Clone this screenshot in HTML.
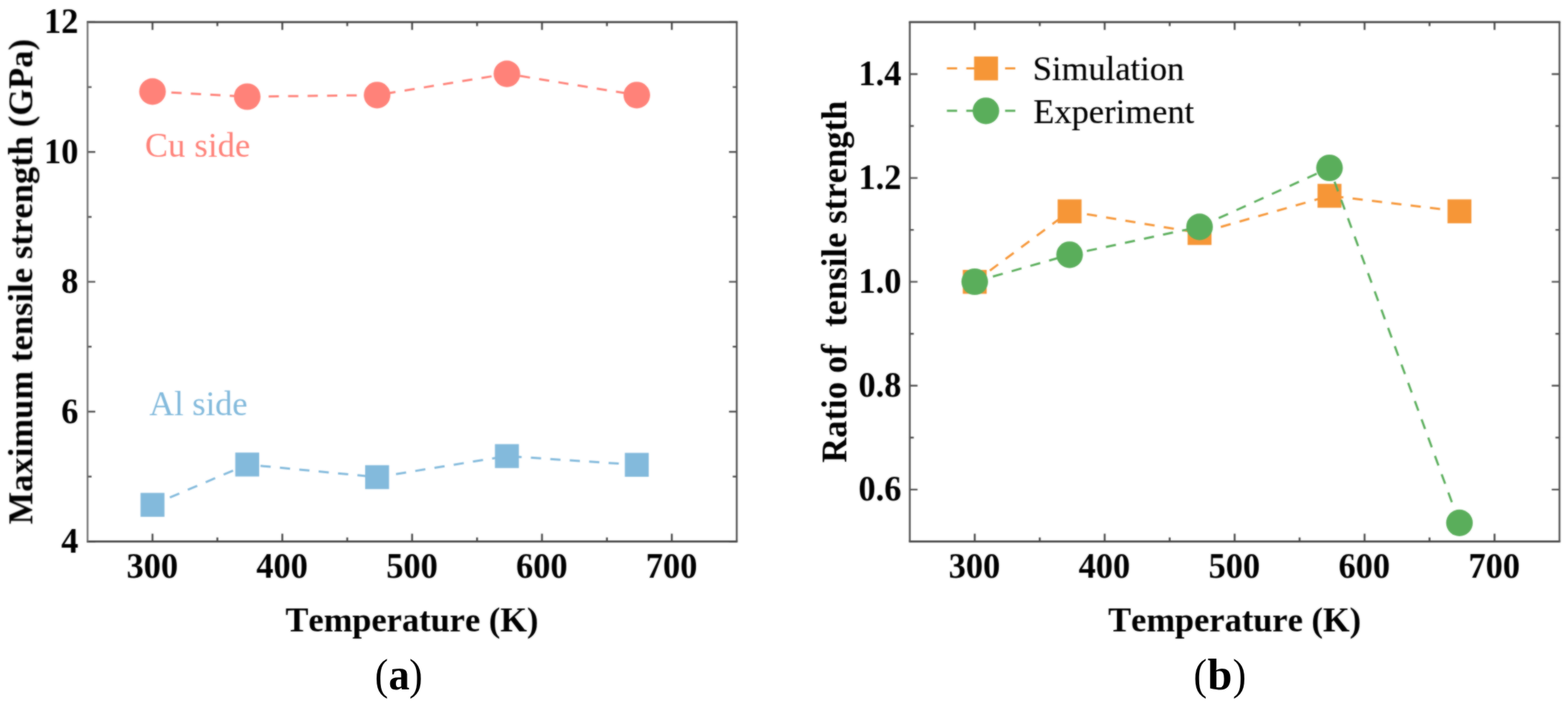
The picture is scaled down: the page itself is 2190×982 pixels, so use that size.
<!DOCTYPE html>
<html lang="en"><head><meta charset="utf-8"><title>Tensile strength versus temperature</title>
<style>
html,body{margin:0;padding:0;background:#fff}
body{width:2190px;height:982px;overflow:hidden}
svg{display:block}
text{font-family:"Liberation Serif","Times New Roman",Times,serif;font-size:48px;fill:#000;font-kerning:none}
.b{font-weight:bold}
#chart text{stroke:#000;stroke-width:0.2px;stroke-linejoin:round}
#chart text.b{stroke:none}
.fh{fill:none;stroke:#444444;stroke-width:2.7}
.fv{fill:none;stroke:#525252;stroke-width:2.5}
.tv{fill:none;stroke:#4c4c4c;stroke-width:2.6}
.th{fill:none;stroke:#505050;stroke-width:2.4}
.ln{fill:none;stroke-width:3.0;stroke-dasharray:14.3 12.9;stroke-dashoffset:0.8}
.cap{font-size:61px}
</style></head><body>
<svg width="2190" height="982" viewBox="0 0 2190 982">
<rect width="2190" height="982" fill="#fff"/>
<defs><filter id="soft" x="0" y="0" width="2190" height="982" filterUnits="userSpaceOnUse" color-interpolation-filters="sRGB"><feGaussianBlur in="SourceGraphic" stdDeviation="1" result="b"/><feComposite in="SourceGraphic" in2="b" operator="arithmetic" k1="0" k2="0.35" k3="0.65" k4="0"/></filter><filter id="soft2" x="0" y="0" width="2190" height="982" filterUnits="userSpaceOnUse" color-interpolation-filters="sRGB"><feGaussianBlur in="SourceGraphic" stdDeviation="1" result="b"/><feComposite in="SourceGraphic" in2="b" operator="arithmetic" k1="0" k2="0.75" k3="0.25" k4="0"/></filter></defs>
<g id="chart" filter="url(#soft)">
<g id="panel-a">
<path class="tv" d="M213.0 756.4v-10.8M213.0 30.9v10.8M394.3 756.4v-10.8M394.3 30.9v10.8M575.6 756.4v-10.8M575.6 30.9v10.8M757.0 756.4v-10.8M757.0 30.9v10.8M938.3 756.4v-10.8M938.3 30.9v10.8M303.6 756.4v-5.6M303.6 30.9v5.6M485.0 756.4v-5.6M485.0 30.9v5.6M666.3 756.4v-5.6M666.3 30.9v5.6M847.7 756.4v-5.6M847.7 30.9v5.6"/>
<path class="th" d="M122.3 756.4h10.8M1029.0 756.4h-10.8M122.3 575.0h10.8M1029.0 575.0h-10.8M122.3 393.6h10.8M1029.0 393.6h-10.8M122.3 212.3h10.8M1029.0 212.3h-10.8M122.3 30.9h10.8M1029.0 30.9h-10.8M122.3 665.7h5.6M1029.0 665.7h-5.6M122.3 484.3h5.6M1029.0 484.3h-5.6M122.3 303.0h5.6M1029.0 303.0h-5.6M122.3 121.6h5.6M1029.0 121.6h-5.6"/>
<path class="fh" d="M121.05 30.9H1030.25M121.05 756.4H1030.25"/>
<path class="fv" style="stroke:#707070;stroke-width:2.4" d="M122.3 30.9V756.4"/>
<path class="fv" d="M1029.0 30.9V756.4"/>
<text class="b" text-anchor="middle" transform="translate(212.7 807.4) scale(1 1.065)">300</text>
<text class="b" text-anchor="middle" transform="translate(394.0 807.4) scale(1 1.065)">400</text>
<text class="b" text-anchor="middle" transform="translate(575.4 807.4) scale(1 1.065)">500</text>
<text class="b" text-anchor="middle" transform="translate(756.7 807.4) scale(1 1.065)">600</text>
<text class="b" text-anchor="middle" transform="translate(938.0 807.4) scale(1 1.065)">700</text>
<text class="b" text-anchor="end" transform="translate(109.6 771.9) scale(1 1.065)">4</text>
<text class="b" text-anchor="end" transform="translate(109.6 590.5) scale(1 1.065)">6</text>
<text class="b" text-anchor="end" transform="translate(109.6 409.1) scale(1 1.065)">8</text>
<text class="b" text-anchor="end" transform="translate(109.6 227.8) scale(1 1.065)">10</text>
<text class="b" text-anchor="end" transform="translate(109.6 46.4) scale(1 1.065)">12</text>
<path class="ln" stroke="#83badc" d="M213.0 705.2L345.3 648.9L526.7 666.5L708.0 637.1L889.4 649.3"/>
<rect x="196.3" y="688.5" width="33.4" height="33.4" fill="#83badc"/>
<rect x="328.6" y="632.2" width="33.4" height="33.4" fill="#83badc"/>
<rect x="510.0" y="649.8" width="33.4" height="33.4" fill="#83badc"/>
<rect x="691.3" y="620.4" width="33.4" height="33.4" fill="#83badc"/>
<rect x="872.7" y="632.6" width="33.4" height="33.4" fill="#83badc"/>
<path class="ln" stroke="#ff8279" d="M213.0 127.9L345.3 135.0L526.7 132.8L708.0 103.1L889.4 132.8"/>
<circle cx="213.0" cy="127.9" r="18.6" fill="#ff8279"/>
<circle cx="345.3" cy="135.0" r="18.6" fill="#ff8279"/>
<circle cx="526.7" cy="132.8" r="18.6" fill="#ff8279"/>
<circle cx="708.0" cy="103.1" r="18.6" fill="#ff8279"/>
<circle cx="889.4" cy="132.8" r="18.6" fill="#ff8279"/>
<text x="202.5" y="218.8" style="fill:#ff8279;stroke:none;letter-spacing:0.3px">Cu side</text>
<text x="208.5" y="579.6" style="fill:#83badc;stroke:none">Al side</text>
<text class="b" text-anchor="middle" transform="translate(575.4 881.9) scale(1 1.025)">Temperature (K)</text>
<text class="b" text-anchor="middle" style="letter-spacing:0.17px" transform="translate(45.0 393.4) rotate(-90) scale(1 1.02)">Maximum tensile strength (GPa)</text>
</g>
<g id="panel-b">
<path class="tv" d="M1361.4 756.4v-10.8M1361.4 30.9v10.8M1542.9 756.4v-10.8M1542.9 30.9v10.8M1724.4 756.4v-10.8M1724.4 30.9v10.8M1905.9 756.4v-10.8M1905.9 30.9v10.8M2087.4 756.4v-10.8M2087.4 30.9v10.8M1452.2 756.4v-5.6M1452.2 30.9v5.6M1633.7 756.4v-5.6M1633.7 30.9v5.6M1815.1 756.4v-5.6M1815.1 30.9v5.6M1996.6 756.4v-5.6M1996.6 30.9v5.6"/>
<path class="th" d="M1270.7 683.9h10.8M2178.1 683.9h-10.8M1270.7 538.8h10.8M2178.1 538.8h-10.8M1270.7 393.6h10.8M2178.1 393.6h-10.8M1270.7 248.6h10.8M2178.1 248.6h-10.8M1270.7 103.5h10.8M2178.1 103.5h-10.8M1270.7 611.3h5.6M2178.1 611.3h-5.6M1270.7 466.2h5.6M2178.1 466.2h-5.6M1270.7 321.1h5.6M2178.1 321.1h-5.6M1270.7 176.0h5.6M2178.1 176.0h-5.6"/>
<path class="fh" d="M1269.45 30.9H2179.35M1269.45 756.4H2179.35"/>
<path class="fv" d="M1270.7 30.9V756.4"/>
<path class="fv" d="M2178.1 30.9V756.4"/>
<text class="b" text-anchor="middle" transform="translate(1361.1 807.4) scale(1 1.065)">300</text>
<text class="b" text-anchor="middle" transform="translate(1542.6 807.4) scale(1 1.065)">400</text>
<text class="b" text-anchor="middle" transform="translate(1724.1 807.4) scale(1 1.065)">500</text>
<text class="b" text-anchor="middle" transform="translate(1905.6 807.4) scale(1 1.065)">600</text>
<text class="b" text-anchor="middle" transform="translate(2087.1 807.4) scale(1 1.065)">700</text>
<text class="b" text-anchor="end" transform="translate(1258.9 699.4) scale(1 1.065)">0.6</text>
<text class="b" text-anchor="end" transform="translate(1258.9 554.2) scale(1 1.065)">0.8</text>
<text class="b" text-anchor="end" transform="translate(1258.9 409.1) scale(1 1.065)">1.0</text>
<text class="b" text-anchor="end" transform="translate(1258.9 264.1) scale(1 1.065)">1.2</text>
<text class="b" text-anchor="end" transform="translate(1258.9 119.0) scale(1 1.065)">1.4</text>
<path class="ln" stroke="#f69637" d="M1361.4 393.7L1493.9 295.2L1675.4 325.5L1856.9 273.5L2038.4 295.2"/>
<rect x="1344.7" y="377.0" width="33.4" height="33.4" fill="#f69637"/>
<rect x="1477.2" y="278.5" width="33.4" height="33.4" fill="#f69637"/>
<rect x="1658.7" y="308.8" width="33.4" height="33.4" fill="#f69637"/>
<rect x="1840.2" y="256.8" width="33.4" height="33.4" fill="#f69637"/>
<rect x="2021.7" y="278.5" width="33.4" height="33.4" fill="#f69637"/>
<path class="ln" stroke="#5aae5b" d="M1361.4 393.5L1493.9 355.8L1675.4 316.9L1856.9 234.5L2038.4 730.4"/>
<circle cx="1361.4" cy="393.5" r="18.6" fill="#5aae5b"/>
<circle cx="1493.9" cy="355.8" r="18.6" fill="#5aae5b"/>
<circle cx="1675.4" cy="316.9" r="18.6" fill="#5aae5b"/>
<circle cx="1856.9" cy="234.5" r="18.6" fill="#5aae5b"/>
<circle cx="2038.4" cy="730.4" r="18.6" fill="#5aae5b"/>
<path class="ln" style="stroke-dashoffset:0;stroke-dasharray:14.3 12.8" stroke="#f69637" d="M1322.5 95.6H1418.3"/>
<rect x="1360.5" y="78.9" width="33.4" height="33.4" fill="#f69637"/>
<path class="ln" style="stroke-dashoffset:0;stroke-dasharray:14.3 12.8" stroke="#5aae5b" d="M1322.5 154.8H1418.3"/>
<circle cx="1377.0" cy="154.8" r="18.6" fill="#5aae5b"/>
<text x="1442.6" y="112.4" style="letter-spacing:0.08px">Simulation</text>
<text x="1443.3" y="171.6" style="letter-spacing:0.08px">Experiment</text>
<text class="b" text-anchor="middle" transform="translate(1724.4 881.9) scale(1 1.025)">Temperature (K)</text>
<text class="b" text-anchor="middle" xml:space="preserve" style="letter-spacing:0.18px;white-space:pre" transform="translate(1182.3 393.4) rotate(-90) scale(1 1.04)">Ratio of  tensile strength</text>
</g>
</g>
<g id="captions" filter="url(#soft2)">
<text class="cap" y="963.2"><tspan x="523.4" font-size="60.5" style="font-size:60.5px" textLength="18.74" lengthAdjust="spacingAndGlyphs">(</tspan><tspan class="b" x="542.7" style="font-size:62.0px" textLength="29.45" lengthAdjust="spacingAndGlyphs">a</tspan><tspan x="571.4" style="font-size:60.5px" textLength="18.74" lengthAdjust="spacingAndGlyphs">)</tspan></text>
<text class="cap" y="963.2"><tspan x="1667.1" font-size="60.5" style="font-size:60.5px" textLength="18.74" lengthAdjust="spacingAndGlyphs">(</tspan><tspan class="b" x="1686.5" style="font-size:62.0px" textLength="34.48" lengthAdjust="spacingAndGlyphs">b</tspan><tspan x="1721.7" style="font-size:60.5px" textLength="18.74" lengthAdjust="spacingAndGlyphs">)</tspan></text>
</g>
</svg>
</body></html>
